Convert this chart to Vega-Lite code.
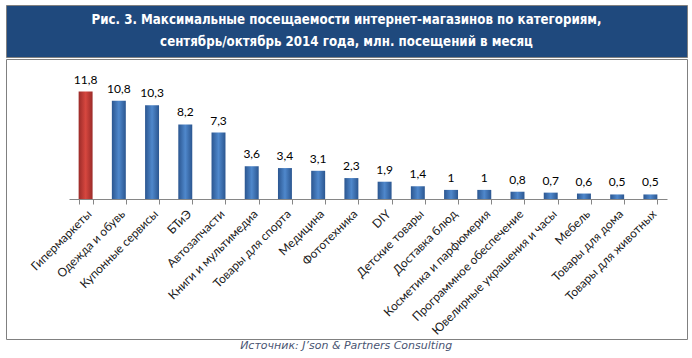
{
  "$schema": "https://vega.github.io/schema/vega-lite/v6.json",
  "padding": {"left": 4, "top": 4, "right": 7, "bottom": 0},
  "background": "white",
  "config": {
    "locale": {"number": {"decimal": ",", "thousands": " ", "grouping": [3], "currency": ["", ""]}},
    "concat": {"spacing": 0}
  },
  "title": {
    "text": "Источник: J’son & Partners Consulting",
    "orient": "bottom",
    "anchor": "middle",
    "font": "DejaVu Sans",
    "fontStyle": "italic",
    "fontWeight": "normal",
    "fontSize": 11,
    "color": "#4a5572",
    "offset": 0
  },
  "spacing": 0,
  "vconcat": [
    {
      "width": 681,
      "height": 52,
      "view": {"fill": "#1F497D", "stroke": "#808080"},
      "data": {"values": [{"t": "Рис. 3. Максимальные посещаемости интернет-магазинов по категориям,\nсентябрь/октябрь 2014 года, млн. посещений в месяц"}]},
      "mark": {"type": "text", "lineBreak": "\n", "color": "white", "font": "'DejaVu Sans Condensed', 'DejaVu Sans', sans-serif", "fontWeight": "bold", "fontSize": 13.2, "lineHeight": 22, "align": "center", "baseline": "middle", "dy": -11},
      "encoding": {"text": {"field": "t"}}
    },
    {
      "width": 681,
      "height": 280,
      "view": {"stroke": "#808080", "fill": "white"},
      "data": {"values": [
        {"cat": "Гипермаркеты", "v": 11.8},
        {"cat": "Одежда и обувь", "v": 10.8},
        {"cat": "Купонные сервисы", "v": 10.3},
        {"cat": "БТиЭ", "v": 8.2},
        {"cat": "Автозапчасти", "v": 7.3},
        {"cat": "Книги и мультимедиа", "v": 3.6},
        {"cat": "Товары для спорта", "v": 3.4},
        {"cat": "Медицина", "v": 3.1},
        {"cat": "Фототехника", "v": 2.3},
        {"cat": "DIY", "v": 1.9},
        {"cat": "Детские товары", "v": 1.4},
        {"cat": "Доставка блюд", "v": 1},
        {"cat": "Косметика и парфюмерия", "v": 1},
        {"cat": "Программное обеспечение", "v": 0.8},
        {"cat": "Ювелирные украшения и часы", "v": 0.7},
        {"cat": "Мебель", "v": 0.6},
        {"cat": "Товары для дома", "v": 0.5},
        {"cat": "Товары для животных", "v": 0.5}
      ]},
      "encoding": {
        "x": {
          "field": "cat", "type": "nominal", "sort": null,
          "scale": {"range": [63, 661], "paddingInner": 0.58, "paddingOuter": 0.29},
          "axis": {
            "title": null, "orient": "bottom", "offset": -140,
            "domainColor": "#868686", "tickColor": "#868686", "tickSize": 5,
            "tickBand": "extent", "labelAngle": -45, "labelFont": "Lato",
            "labelFontSize": 12, "labelColor": "#1a1a1a", "labelPadding": 4,
            "grid": false, "labelLimit": 300
          }
        },
        "y": {"field": "v", "type": "quantitative", "scale": {"domain": [0, 15], "range": [140, 3.5]}, "axis": null}
      },
      "layer": [
        {
          "mark": {"type": "bar"},
          "encoding": {
            "color": {
              "condition": {
                "test": "datum.cat === 'Гипермаркеты'",
                "value": {"gradient": "linear", "x1": 0, "x2": 1, "y1": 0, "y2": 0, "stops": [{"offset": 0, "color": "#9b2b29"}, {"offset": 0.5, "color": "#d6473f"}, {"offset": 1, "color": "#9b2b29"}]}
              },
              "value": {"gradient": "linear", "x1": 0, "x2": 1, "y1": 0, "y2": 0, "stops": [{"offset": 0, "color": "#2b5690"}, {"offset": 0.5, "color": "#4f88cc"}, {"offset": 1, "color": "#2b5690"}]}
            }
          }
        },
        {
          "mark": {"type": "text", "baseline": "bottom", "dy": -5, "font": "Lato", "fontSize": 12, "color": "#000000"},
          "encoding": {"text": {"field": "v", "type": "quantitative", "format": ".1~f"}}
        }
      ]
    }
  ]
}
